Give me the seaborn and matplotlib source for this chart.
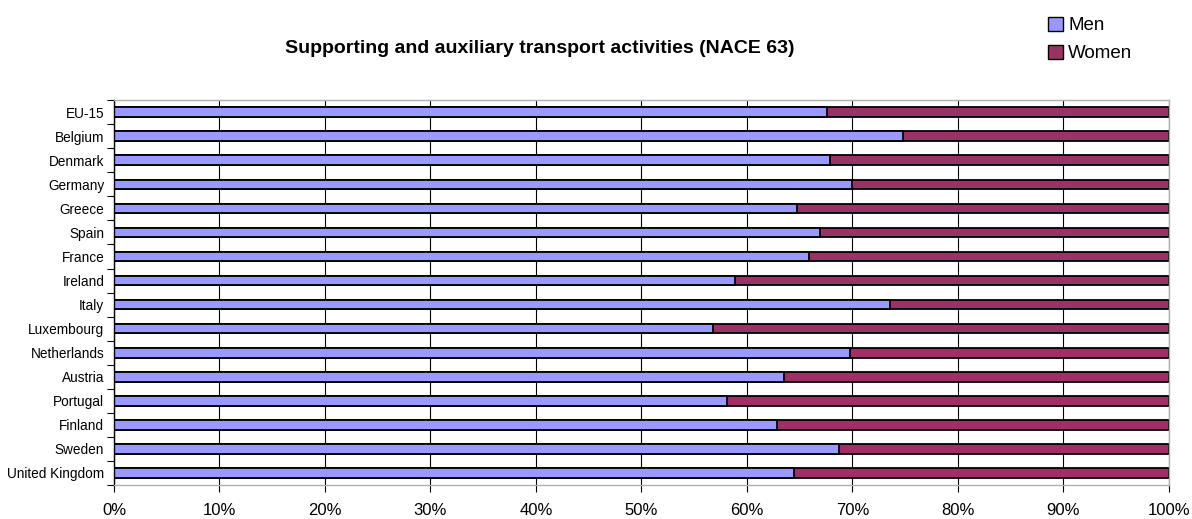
import pandas as pd
import seaborn as sns
import matplotlib.pyplot as plt
from matplotlib.patches import Patch
from matplotlib.ticker import FixedLocator

# Share of men / women (%) per country
countries = ["EU-15", "Belgium", "Denmark", "Germany", "Greece", "Spain", "France",
             "Ireland", "Italy", "Luxembourg", "Netherlands", "Austria", "Portugal",
             "Finland", "Sweden", "United Kingdom"]
men = [67.6, 74.8, 67.9, 70.0, 64.7, 66.9, 65.9, 58.9, 73.6, 56.8, 69.8, 63.5,
       58.1, 62.8, 68.7, 64.5]
women = [100 - m for m in men]

data = pd.DataFrame({"Country": countries, "Men": men, "Women": women})
data["Total"] = data["Men"] + data["Women"]

men_color = "#9999FF"
women_color = "#993366"

sns.set_style("white")
plt.rcParams['font.family'] = ['Liberation Sans', 'DejaVu Sans']
plt.rcParams['text.color'] = 'black'
plt.rcParams['xtick.color'] = 'black'
plt.rcParams['ytick.color'] = 'black'

fig = plt.figure(figsize=(11.92, 5.19), dpi=100)
ax = fig.add_axes([0.0956, 0.0655, 0.8851, 0.7415])

# Stacked bars: full length in women colour, men drawn over it
sns.barplot(data=data, y="Country", x="Total", color=women_color, width=0.4,
            edgecolor="black", linewidth=1.3, saturation=1, ax=ax)
sns.barplot(data=data, y="Country", x="Men", color=men_color, width=0.4,
            edgecolor="black", linewidth=1.3, saturation=1, ax=ax)

ax.set_xlim(0, 100)
ax.set_ylim(len(countries) - 0.5, -0.5)
ax.set_xticks(range(0, 101, 10))
ax.set_xticklabels([f"{v}%" for v in range(0, 101, 10)], fontsize=12)
ax.tick_params(axis="x", length=5, width=0.8, color="black", pad=8, direction="out", bottom=True)
ax.xaxis.grid(True, color="black", linewidth=0.8)
ax.set_axisbelow(True)

# y tick labels at bars, tick marks between categories
ax.tick_params(axis="y", labelsize=9.8, length=0, pad=7)
ax.yaxis.set_minor_locator(FixedLocator([i - 0.5 for i in range(len(countries) + 1)]))
ax.tick_params(axis="y", which="minor", length=5, width=0.8, color="black", direction="out", left=True)
ax.set_xlabel("")
ax.set_ylabel("")

for side in ["top", "right", "bottom"]:
    ax.spines[side].set_color("#b0b0b0")
    ax.spines[side].set_linewidth(1)
ax.spines["left"].set_color("black")
ax.spines["left"].set_linewidth(1)

fig.text(0.453, 0.907, "Supporting and auxiliary transport activities (NACE 63)",
         ha="center", va="center", fontsize=14, fontweight="bold")

handles = [Patch(facecolor=men_color, edgecolor="black", label="Men"),
           Patch(facecolor=women_color, edgecolor="black", label="Women")]
fig.legend(handles=handles, loc="upper left", bbox_to_anchor=(0.867, 0.997), frameon=False,
           fontsize=13.5, handlelength=0.8, handleheight=0.8, handletextpad=0.25,
           labelspacing=0.55, borderpad=0.3)

fig.savefig("out.png", dpi=100)
